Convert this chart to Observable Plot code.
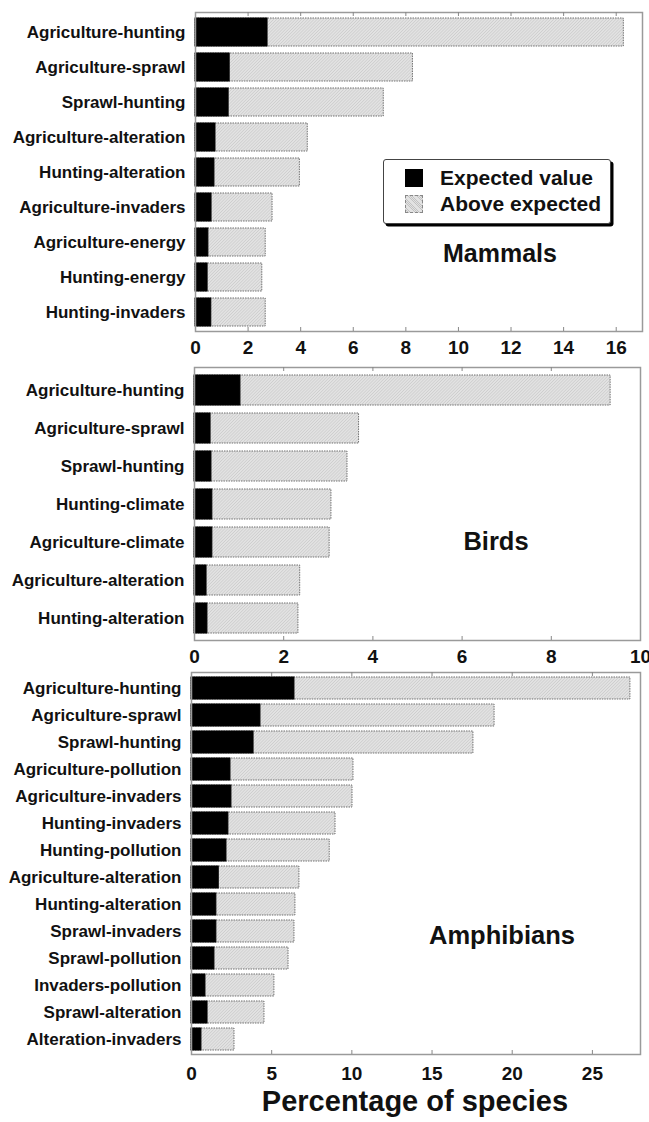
<!DOCTYPE html>
<html><head><meta charset="utf-8">
<script src="https://cdn.jsdelivr.net/npm/d3@7"></script>
<script src="https://cdn.jsdelivr.net/npm/@observablehq/plot@0.6"></script>
<style>
body{margin:0;background:#fff;}
#wrap{position:relative;width:649px;height:1122px;font-family:"Liberation Sans",Arial,sans-serif;overflow:hidden;}
#wrap svg{position:absolute;left:0;}
.name{position:absolute;font-weight:bold;transform:translate(-50%,-50%);white-space:nowrap;color:#111;line-height:1;}
#legend{position:absolute;left:383px;top:159px;width:226px;height:63px;border:1.5px solid #444;border-radius:3px;box-shadow:2.5px 2.5px 0 #000;background:#fff;}
.lrow{position:absolute;left:21px;display:flex;align-items:center;font-weight:bold;font-size:21px;color:#111;}
.sw{width:18px;height:18px;margin-right:17px;box-sizing:border-box;}
</style></head><body><div id="wrap"></div>
<script>
// ---- Data ----
const mammalCats = ["Agriculture-hunting","Agriculture-sprawl","Sprawl-hunting","Agriculture-alteration","Hunting-alteration","Agriculture-invaders","Agriculture-energy","Hunting-energy","Hunting-invaders"];
const mammalExpected = [2.74, 1.3, 1.26, 0.76, 0.72, 0.61, 0.49, 0.46, 0.6];
const mammalTotal = [16.29, 8.27, 7.16, 4.27, 3.97, 2.93, 2.67, 2.54, 2.67];

const birdCats = ["Agriculture-hunting","Agriculture-sprawl","Sprawl-hunting","Hunting-climate","Agriculture-climate","Agriculture-alteration","Hunting-alteration"];
const birdExpected = [1.03, 0.36, 0.38, 0.4, 0.4, 0.27, 0.29];
const birdTotal = [9.33, 3.69, 3.43, 3.07, 3.03, 2.37, 2.33];

const amphCats = ["Agriculture-hunting","Agriculture-sprawl","Sprawl-hunting","Agriculture-pollution","Agriculture-invaders","Hunting-invaders","Hunting-pollution","Agriculture-alteration","Hunting-alteration","Sprawl-invaders","Sprawl-pollution","Invaders-pollution","Sprawl-alteration","Alteration-invaders"];
const amphExpected = [6.42, 4.3, 3.87, 2.43, 2.49, 2.3, 2.18, 1.7, 1.55, 1.55, 1.43, 0.87, 1.0, 0.62];
const amphTotal = [27.37, 18.9, 17.58, 10.1, 10.04, 8.98, 8.62, 6.73, 6.48, 6.42, 6.05, 5.17, 4.55, 2.68];

const mammalTicks = [0,2,4,6,8,10,12,14,16];
const birdTicks = [0,2,4,6,8,10];
const amphTicks = [0,5,10,15,20,25];

const legendLabels = ["Expected value","Above expected"];
const panelNames = ["Mammals","Birds","Amphibians"];
const xTitle = "Percentage of species";

// ---- Drawing ----
const wrap = document.getElementById("wrap");

function panel(o){
  const rows = o.cats.map((c,i)=>({cat:c, expected:o.expected[i], total:o.total[i]}));
  const frameH = o.height - o.mt - o.mb;
  const inner = o.ticks.filter(t => t > 0 && t < o.xmax);
  const svg = Plot.plot({
    width: 649, height: o.height,
    marginLeft: o.ml, marginRight: o.mr, marginTop: o.mt, marginBottom: o.mb,
    style: {fontFamily: '"Liberation Sans", Arial, sans-serif', color: "#111", background: "transparent", overflow: "visible"},
    x: {domain: [0, o.xmax]},
    y: {domain: o.cats, paddingInner: o.pi, paddingOuter: o.po},
    marks: [
      Plot.barX(rows, {y: "cat", x1: 0, x2: "total", fill: `url(#hatch-${o.id})`, stroke: "#707070", strokeWidth: 1, strokeDasharray: "1.5,1"}),
      Plot.barX(rows, {y: "cat", x1: 0, x2: "expected", fill: "#000", stroke: "#000", strokeWidth: 1}),
      Plot.frame({stroke: "#9a9a9a", strokeWidth: 1.5}),
      Plot.ruleX(inner, {x: d => d, insetBottom: frameH - 4, stroke: "#888", strokeWidth: 1}),
      Plot.ruleX(inner, {x: d => d, insetTop: frameH - 4, stroke: "#888", strokeWidth: 1}),
      Plot.axisY({tickSize: 0, tickPadding: 10, fontSize: 17, fontWeight: "bold", label: null}),
      Plot.axisX({ticks: o.ticks, tickSize: 0, tickPadding: o.tp, fontSize: 19, fontWeight: "bold", label: null, tickFormat: d => String(d)})
    ]
  });
  svg.style.top = o.top + "px";
  const defs = d3.create("svg:defs");
  const pat = defs.append("pattern").attr("id", `hatch-${o.id}`).attr("patternUnits","userSpaceOnUse")
    .attr("width", 2.2).attr("height", 2.2).attr("patternTransform","rotate(45)");
  pat.append("rect").attr("width",2.2).attr("height",2.2).attr("fill","#e2e2e2");
  pat.append("line").attr("x1",0).attr("y1",0).attr("x2",0).attr("y2",2.2).attr("stroke","#c2c2c2").attr("stroke-width",0.9);
  svg.insertBefore(defs.node(), svg.firstChild);
  wrap.appendChild(svg);
}

panel({id:"m", cats: mammalCats, expected: mammalExpected, total: mammalTotal, xmax: 17, ticks: mammalTicks,
  top: 0, height: 361, mt: 12, mb: 30, ml: 195, mr: 7, pi: 0.2, po: 0.1, tp: 9});
panel({id:"b", cats: birdCats, expected: birdExpected, total: birdTotal, xmax: 10, ticks: birdTicks,
  top: 361, height: 306, mt: 6, mb: 27, ml: 194, mr: 9, pi: 0.22, po: 0.13, tp: 9});
panel({id:"a", cats: amphCats, expected: amphExpected, total: amphTotal, xmax: 28, ticks: amphTicks,
  top: 667, height: 455, mt: 5, mb: 68, ml: 191, mr: 9, pi: 0.19, po: 0.07, tp: 12});

// legend
const lg = document.createElement("div"); lg.id = "legend";
legendLabels.forEach((t,i)=>{
  const r = document.createElement("div"); r.className = "lrow"; r.style.top = (i === 0 ? 6 : 32) + "px";
  const s = document.createElement("div"); s.className = "sw";
  if (i === 0) { s.style.background = "#000"; }
  else { s.style.background = "repeating-linear-gradient(45deg,#e2e2e2 0 1.1px,#c2c2c2 1.1px 1.6px)"; s.style.border = "1px dashed #888"; }
  r.appendChild(s); const tx = document.createElement("span"); tx.textContent = t; r.appendChild(tx);
  lg.appendChild(r);
});
wrap.appendChild(lg);

// panel names
const namePos = [[500, 253, 25],[496, 542, 25.5],[502, 936, 25.5]];
panelNames.forEach((n,i)=>{
  const d = document.createElement("div"); d.className = "name"; d.textContent = n;
  d.style.left = namePos[i][0]+"px"; d.style.top = namePos[i][1]+"px"; d.style.fontSize = namePos[i][2]+"px";
  wrap.appendChild(d);
});
const t = document.createElement("div"); t.className = "name"; t.textContent = xTitle;
t.style.left = "415px"; t.style.top = "1101px"; t.style.fontSize = "29px";
wrap.appendChild(t);
</script></body></html>
